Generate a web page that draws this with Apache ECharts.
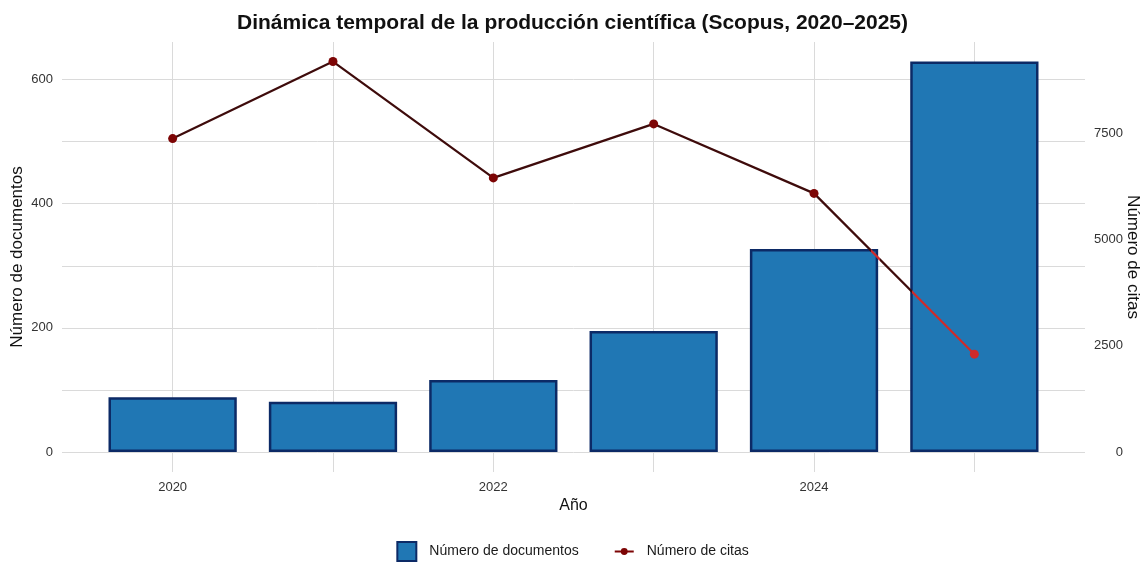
<!DOCTYPE html>
<html>
<head>
<meta charset="utf-8">
<script src="https://cdn.jsdelivr.net/npm/echarts@6/dist/echarts.min.js"></script>
<style>
html,body{margin:0;padding:0;background:#fff;}
#chart{width:1145px;height:563px;}
</style>
</head>
<body>
<div id="chart"></div>
<script>
// ---- data ----
const years = ['2020','2021','2022','2023','2024','2025'];
const documentos = [88, 81, 116, 195, 327, 629];
const citas = [7370, 9183, 6446, 7716, 6082, 2301];
const leftTicks = [0, 200, 400, 600];
const rightTicks = [0, 2500, 5000, 7500];

// ---- derived scales (secondary axis = citas / factor, like ggplot sec_axis) ----
const F = Math.max(...citas) / Math.max(...documentos);
const leftMax = Math.max(...documentos) * 1.05;
const rightMax = leftMax * F;

// layout of the panel (pixels)
const PANEL_L = 62, PANEL_R = 1085, PANEL_T = 42, ZERO_Y = 452, PANEL_B = 472;
const xMin = 2019.31, xMax = 2025.69; // expanded continuous x range
const pxPerYear = (PANEL_R - PANEL_L) / (xMax - xMin);
const firstCenter = PANEL_L + (2020 - xMin) * pxPerYear;
const lastCenter = firstCenter + (years.length - 1) * pxPerYear;
const catLeft = firstCenter - pxPerYear / 2;
const catRight = 1145 - (lastCenter + pxPerYear / 2);

// line colour: red where the line lies over a bar, dark elsewhere
const HW = 0.4; // half bar width in category units
const n = years.length;
function overBarIntervals(){
  const iv = [];
  for (let i = 0; i < n - 1; i++) {
    const a = citas[i] / F, b = citas[i + 1] / F;
    const L = t => a + (b - a) * (t - i);
    const part = (t0, t1, h) => {
      const l0 = L(t0) - h, l1 = L(t1) - h;
      if (l0 <= 0 && l1 <= 0) iv.push([t0, t1]);
      else if (l0 > 0 && l1 > 0) return;
      else {
        const tc = t0 + (t1 - t0) * l0 / (l0 - l1);
        if (l0 <= 0) iv.push([t0, tc]); else iv.push([tc, t1]);
      }
    };
    part(i, i + HW, documentos[i]);
    part(i + 1 - HW, i + 1, documentos[i + 1]);
  }
  return iv;
}
const DARK = '#3e0b0b', RED = '#cf2a2a', PT = '#7d0505';
const stops = [];
stops.push({offset: 0, color: DARK});
overBarIntervals().forEach(([t0, t1]) => {
  const o0 = t0 / (n - 1), o1 = t1 / (n - 1);
  stops.push({offset: o0, color: DARK});
  stops.push({offset: o0, color: RED});
  stops.push({offset: o1, color: RED});
  stops.push({offset: o1, color: DARK});
});
stops.push({offset: 1, color: stops[stops.length - 1].color});

const lineData = citas.map((c, i) => ({
  value: c,
  itemStyle: {color: (c / F <= documentos[i]) ? RED : PT}
}));

const chart = echarts.init(document.getElementById('chart'), null, {renderer: 'canvas'});
const FONT = 'Liberation Sans, Arial, sans-serif';
const lineIcon = 'path://M0,2.7 L22,2.7 L22,5.3 L0,5.3 Z M11,0 A4,4 0 1,1 10.99,0 Z';
const noGrid = {outerBoundsMode: 'none', containLabel: false};

chart.setOption({
  animation: false,
  backgroundColor: '#fff',
  textStyle: {fontFamily: FONT},
  title: {
    text: 'Dinámica temporal de la producción científica (Scopus, 2020–2025)',
    left: 'center', top: 8,
    textStyle: {fontFamily: FONT, fontSize: 21, fontWeight: 'bold', color: '#111'}
  },
  legend: {
    bottom: -4, left: 'center',
    itemWidth: 19, itemHeight: 19, itemGap: 36,
    textStyle: {fontFamily: FONT, fontSize: 14, color: '#1a1a1a', padding: [0, 0, 0, 8]},
    data: [
      {name: 'Número de documentos', icon: 'rect'},
      {name: 'Número de citas', icon: lineIcon, itemStyle: {color: PT, borderWidth: 0}}
    ]
  },
  grid: [
    Object.assign({left: PANEL_L, right: 1145 - PANEL_R, top: PANEL_T, height: ZERO_Y - PANEL_T}, noGrid),
    Object.assign({left: catLeft, right: catRight, top: PANEL_T, height: ZERO_Y - PANEL_T}, noGrid),
    Object.assign({left: firstCenter, right: 1145 - lastCenter, top: PANEL_T, height: PANEL_B - PANEL_T}, noGrid),
    Object.assign({left: PANEL_L, right: 1145 - PANEL_R, top: PANEL_T, height: PANEL_B - PANEL_T}, noGrid)
  ],
  xAxis: [
    {gridIndex: 0, type: 'category', data: years, show: false},
    {gridIndex: 1, type: 'category', data: years, show: false},
    {gridIndex: 2, type: 'category', data: years, boundaryGap: false,
     axisLine: {show: false}, axisTick: {show: false},
     axisLabel: {interval: 1, margin: 9, fontSize: 13, color: '#333', fontFamily: FONT},
     splitLine: {show: true, interval: 0, lineStyle: {color: '#dadada', width: 1}},
     name: 'Año', nameLocation: 'middle', nameGap: 26, nameMoveOverlap: false,
     nameTextStyle: {fontSize: 16, color: '#111', fontFamily: FONT}},
    {gridIndex: 3, type: 'category', data: years, show: false}
  ],
  yAxis: [
    {gridIndex: 0, type: 'value', min: 0, max: leftMax, interval: 100,
     axisLine: {show: false}, axisTick: {show: false},
     axisLabel: {margin: 9, fontSize: 13, color: '#333', fontFamily: FONT,
       formatter: v => leftTicks.includes(Math.round(v)) && Math.abs(v - Math.round(v)) < 1e-6 ? String(Math.round(v)) : ''},
     splitLine: {show: true, showMaxLine: false, lineStyle: {color: '#dadada', width: 1}}},
    {gridIndex: 0, type: 'value', position: 'right', min: 0, max: rightMax, interval: 2500,
     axisLine: {show: false}, axisTick: {show: false}, splitLine: {show: false},
     axisLabel: {margin: 38, align: 'right', fontSize: 13, color: '#333', fontFamily: FONT,
       formatter: v => rightTicks.includes(Math.round(v)) && Math.abs(v - Math.round(v)) < 1e-6 ? String(Math.round(v)) : ''}},
    {gridIndex: 1, type: 'value', min: 0, max: leftMax, show: false},
    {gridIndex: 1, type: 'value', min: 0, max: rightMax, show: false},
    {gridIndex: 2, type: 'value', show: false},
    {gridIndex: 3, type: 'value', position: 'left',
     axisLine: {show: false}, axisTick: {show: false}, axisLabel: {show: false}, splitLine: {show: false},
     name: 'Número de documentos', nameLocation: 'middle', nameGap: 36, nameMoveOverlap: false,
     nameTextStyle: {fontSize: 17, color: '#111', fontFamily: FONT}},
    {gridIndex: 3, type: 'value', position: 'right',
     axisLine: {show: false}, axisTick: {show: false}, axisLabel: {show: false}, splitLine: {show: false},
     name: 'Número de citas', nameLocation: 'middle', nameGap: 39, nameRotate: -90, nameMoveOverlap: false,
     nameTextStyle: {fontSize: 17, color: '#111', fontFamily: FONT}}
  ],
  series: [
    {
      name: 'Número de documentos', type: 'bar',
      xAxisIndex: 1, yAxisIndex: 2,
      data: documentos, barWidth: '80%',
      itemStyle: {color: '#2077b4', borderColor: '#0c2a66', borderWidth: 2.5}
    },
    {
      name: 'Número de citas', type: 'line',
      xAxisIndex: 1, yAxisIndex: 3,
      data: lineData,
      symbol: 'circle', symbolSize: 9,
      lineStyle: {width: 2.2, color: new echarts.graphic.LinearGradient(0, 0, 1, 0, stops)},
      itemStyle: {color: PT},
      z: 5
    }
  ]
});
</script>
</body>
</html>
